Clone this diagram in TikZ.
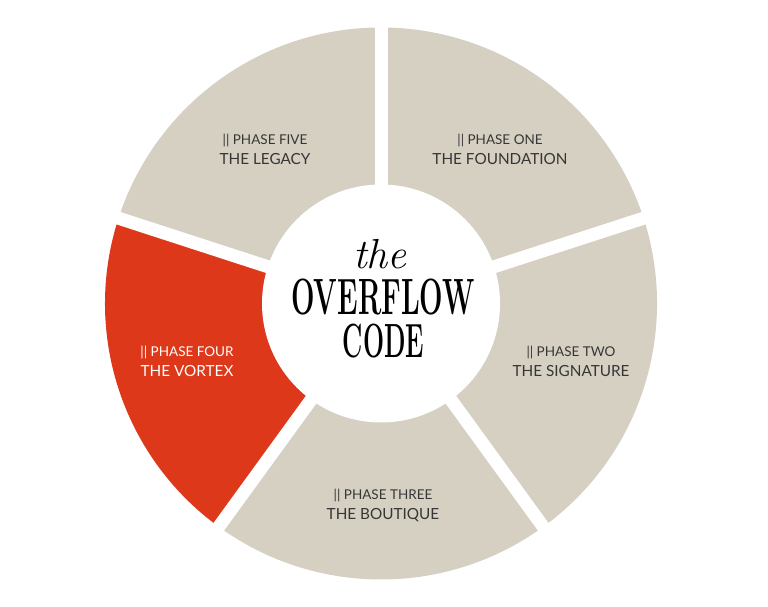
\documentclass[tikz,border=0pt]{standalone}
\usepackage{fontspec}
\usepackage{xcolor}
\usepackage{tikz}
\usetikzlibrary{positioning}
\newfontfamily\labelfont{Lato}
\definecolor{sand}{HTML}{D5D0C2}
\definecolor{vortex}{HTML}{DD3819}
\definecolor{ink}{HTML}{363636}

\begin{document}
\begin{tikzpicture}[x=1pt, y=1pt,
          phase/.style={align=center, text=ink, inner sep=0pt,
            font=\labelfont\fontsize{15.3}{20}\selectfont},
          title/.style={anchor=base, inner sep=0pt, text=black,
            font=\bfseries\fontsize{51}{51}\selectfont},
          gap/.style={white, line width=13pt}]
          \fill[white] (0,0) rectangle (768,607);
          \useasboundingbox (0,0) rectangle (768,607);
          \begin{scope}[shift={(381,303.5)}]
          % the five segments
          \fill[sand] (0,0) -- (-54:276) arc (-54:162:276) -- cycle;
          \fill[sand] (0,0) -- (234:276) arc (234:306:276) -- cycle;
          \fill[vortex] (0,0) -- (162:276) arc (162:234:276) -- cycle;
          \foreach \a in {18,90,162,234,306}
            \draw[gap] (0,0) -- (\a:300);
          \fill[white] (0,0) circle (119);

          \node[phase] (one) at (119,154.5) {{\fontsize{13.5}{20}\selectfont || PHASE ONE}\\THE FOUNDATION};
          \node[phase] (two) at (190,-57.5) {{\fontsize{13.5}{20}\selectfont || PHASE TWO}\\THE SIGNATURE};
          \node[phase] (three) at (2,-201.5) {{\fontsize{13.5}{20}\selectfont || PHASE THREE}\\THE BOUTIQUE};
          \node[phase, text=white] (four) at (-194,-57.5) {{\fontsize{13.5}{20}\selectfont || PHASE FOUR}\\THE VORTEX};
          \node[phase] (five) at (-116,154.5) {{\fontsize{13.5}{20}\selectfont || PHASE FIVE}\\THE LEGACY};

          % title in the middle
          \node[title] (overflow) at (2,-11.5) {\scalebox{0.545}[1]{OVERFLOW}};
          \node[title] (code) at (2.5,-54.5) {\scalebox{0.52}[1]{\fontsize{48}{48}\selectfont CODE}};
          \node[inner sep=0pt, font=\itshape\fontsize{42}{42}\selectfont] (the) at (-1,49) {the};
          \end{scope}
        \end{tikzpicture}
\end{document}
